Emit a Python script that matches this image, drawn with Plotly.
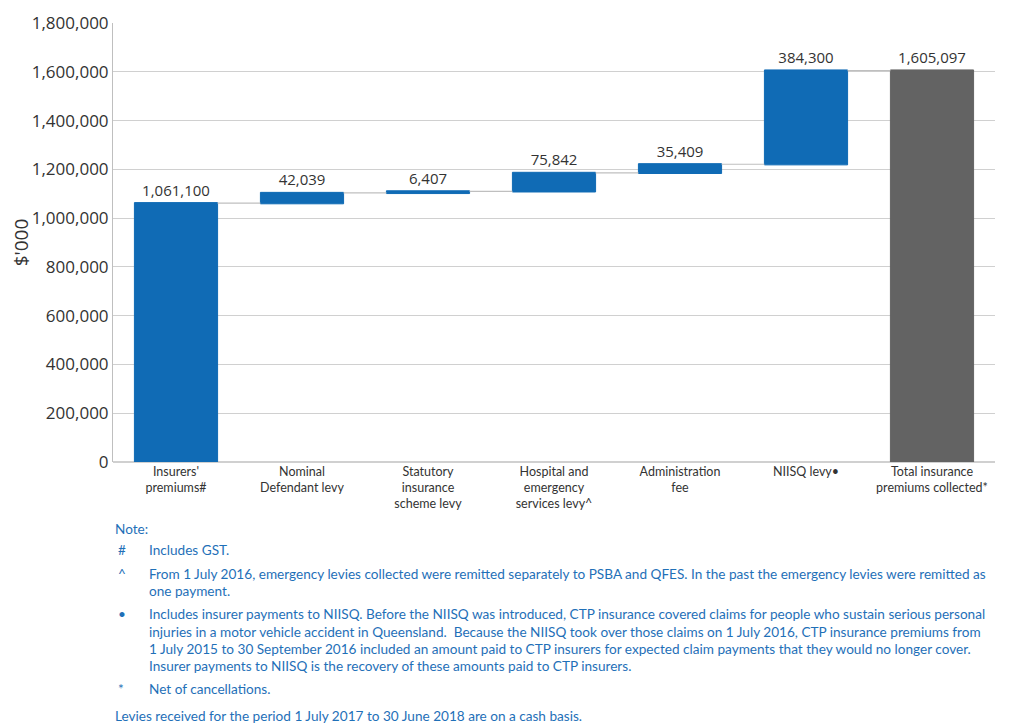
import plotly.graph_objects as go

categories = ["Insurers'<br>premiums#", "Nominal<br>Defendant levy", "Statutory<br>insurance<br>scheme levy",
              "Hospital and<br>emergency<br>services levy^", "Administration<br>fee", "NIISQ levy•",
              "Total insurance<br>premiums collected*"]
values = [1061100, 42039, 6407, 75842, 35409, 384300, 1605097]
measures = ["relative", "relative", "relative", "relative", "relative", "relative", "total"]
y_ticks = [0, 200000, 400000, 600000, 800000, 1000000, 1200000, 1400000, 1600000, 1800000]

labels = [f"{v:,}" for v in values]

BLUE = "#106BB5"
GREY = "#636363"
NOTE_BLUE = "#1F70B8"
COND = "Lato, Roboto, sans-serif"
WIDE = "Open Sans, DejaVu Sans, sans-serif"

# page offset compensation (screenshot px -> figure px)
OX, OY = 8, 8
W, H = 1024, 726
PL, PR, PT, PB = 113 - OX, 995 - OX, 23 - OY, 462 - OY

fig = go.Figure(go.Waterfall(
    x=categories, y=values, measure=measures,
    text=labels, textposition="outside",
    textfont=dict(family=WIDE, size=15, color="#333333"),
    increasing=dict(marker=dict(color=BLUE, line=dict(color=BLUE, width=1))),
    totals=dict(marker=dict(color=GREY, line=dict(color=GREY, width=1))),
    connector=dict(line=dict(color="#BFBFBF", width=1.2)),
    cliponaxis=False, hoverinfo="skip",
))

fig.update_layout(
    width=W, height=H,
    margin=dict(l=PL, r=W - PR, t=PT, b=H - PB, autoexpand=False),
    paper_bgcolor="white", plot_bgcolor="white",
    showlegend=False, waterfallgap=0.34,
    font=dict(family=WIDE, color="#333333"),
)
fig.update_xaxes(showgrid=False, showline=False, ticks="", automargin=False,
                 tickfont=dict(family=COND, size=12.5, color="#333333"))
fig.update_yaxes(range=[0, 1800000], tickvals=y_ticks, tickformat=",", automargin=False,
                 showgrid=True, gridcolor="#D0D0D0", gridwidth=1,
                 showline=True, linecolor="#BFBFBF", linewidth=1,
                 zeroline=True, zerolinecolor="#D0D0D0",
                 ticks="", ticklen=0,
                 tickfont=dict(family=WIDE, size=17, color="#333333"),
                 title=dict(text="$'000", font=dict(family=WIDE, size=19, color="#333333"), standoff=4))

PH = PB - PT
PWD = PR - PL

def py(p):
    return ((PB + OY) - p) / PH

def px(p):
    return (p - (PL + OX)) / PWD

notes = [
    (113, 529, "Note:"),
    (116, 550, "#"), (147, 550, "Includes GST."),
    (116, 574, "^"), (147, 574, "From 1 July 2016, emergency levies collected were remitted separately to PSBA and QFES. In the past the emergency levies were remitted as"),
    (147, 591, "one payment."),
    (116, 614, "•"), (147, 614, "Includes insurer payments to NIISQ. Before the NIISQ was introduced, CTP insurance covered claims for people who sustain serious personal"),
    (147, 632, "injuries in a motor vehicle accident in Queensland.  Because the NIISQ took over those claims on 1 July 2016, CTP insurance premiums from"),
    (147, 649, "1 July 2015 to 30 September 2016 included an amount paid to CTP insurers for expected claim payments that they would no longer cover."),
    (147, 666, "Insurer payments to NIISQ is the recovery of these amounts paid to CTP insurers."),
    (116, 689, "*"), (147, 689, "Net of cancellations."),
    (113, 716, "Levies received for the period 1 July 2017 to 30 June 2018 are on a cash basis."),
]
for x, y, t in notes:
    fig.add_annotation(xref="paper", yref="paper", x=px(x), y=py(y),
                       xanchor="left", yanchor="middle", showarrow=False, text=t,
                       font=dict(family=COND, size=13.6, color=NOTE_BLUE))

fig.write_html("out.html")
